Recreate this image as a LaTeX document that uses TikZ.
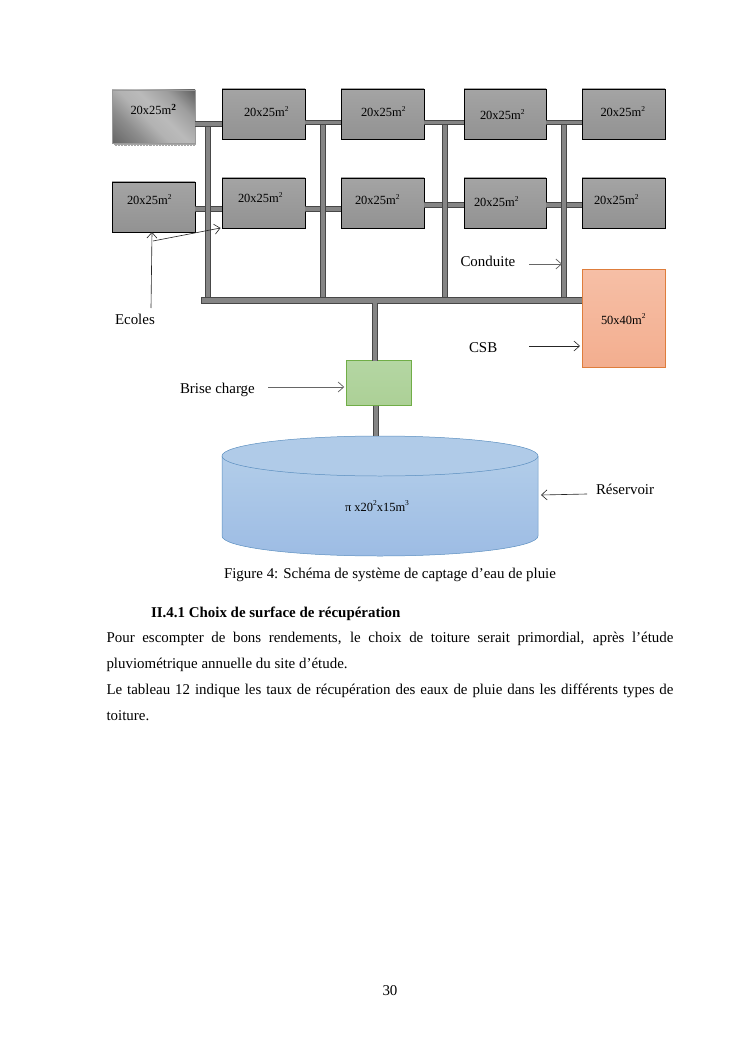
\documentclass[tikz,border=0pt]{standalone}
\usepackage{fontspec}
\setmainfont{Liberation Serif}
\usetikzlibrary{arrows.meta,calc,shapes.geometric}
\definecolor{boxtop}{HTML}{A4A4A4}
\definecolor{boxbot}{HTML}{929292}
\definecolor{csbline}{RGB}{222,125,60}
\definecolor{csbtop}{RGB}{246,191,166}
\definecolor{csbbot}{RGB}{243,174,143}
\definecolor{bcline}{RGB}{112,173,71}
\definecolor{bctop}{RGB}{180,214,163}
\definecolor{bcbot}{RGB}{172,208,150}
\definecolor{resline}{RGB}{91,143,192}
\definecolor{restop}{RGB}{178,205,233}
\definecolor{resbot}{RGB}{157,188,228}
\definecolor{reslid}{RGB}{176,203,232}
\pgfdeclarehorizontalshading{roofshade}{100bp}{color(0bp)=(black!60); color(15bp)=(black!60); color(32bp)=(black!45); color(45bp)=(black!30); color(55bp)=(black!27); color(70bp)=(black!38); color(85bp)=(black!62); color(100bp)=(black!62)}
\tikzset{
  x=0.8bp,y=-0.8bp,
  roofbox/.style={draw=black,line width=0.45pt,top color=boxtop,bottom color=boxbot,minimum width=66.4bp,minimum height=40bp,inner sep=0pt,outer sep=0pt},
  pipe/.style={draw=black!72,line width=4.2bp,line cap=butt},
  pipein/.style={draw=black!48,line width=3bp,line cap=butt},
  lab/.style={anchor=base west,inner sep=0pt,outer sep=0pt,font=\fontsize{10}{12}\selectfont},
  txt/.style={anchor=base west,inner sep=0pt,outer sep=0pt,font=\fontsize{12}{14}\selectfont},
  para/.style={anchor=north west,inner sep=0pt,outer sep=0pt,text width=453.6bp,align=justify,font=\fontsize{12}{20.8}\selectfont},
  arr/.style={draw=black!85,line width=0.5pt,-{Straight Barb[length=4.5bp,width=8bp]}},
  grayarr/.style={arr,draw=black!60,line width=0.6pt},
}
\newcommand{\supnum}[1]{\raisebox{0.42em}{\fontsize{6}{7}\selectfont #1}}
\newcommand{\squ}{\supnum{2}}
\begin{document}
\begin{tikzpicture}
\useasboundingbox (0,0) rectangle (744,1053);
% junctions
\coordinate (j1) at (208,124);
\coordinate (j2) at (323,122.5);
\coordinate (j3) at (445,122.5);
\coordinate (j4) at (564,122.5);
\coordinate (k1) at (208,209);
\coordinate (k3) at (445,205);
% first-row shadow
\fill[black!35] (114,143) rectangle (196,146.5);
\draw[white,line width=0.5bp,dash pattern=on 0.5bp off 2bp] (114,145) -- (196,145);
% boxes
\node[roofbox,draw=black!40,line width=0.4pt,shading=roofshade,shading angle=45,minimum width=66.4bp,minimum height=42.4bp] (t1) at (153.5,116.5) {};
\node[roofbox] (t2) at (263.5,114) {};
\node[roofbox] (t3) at (382.5,114) {};
\node[roofbox,minimum width=65.6bp] (t4) at (505,114) {};
\node[roofbox] (t5) at (623.5,114) {};
\node[roofbox] (b1) at (153.5,207) {};
\node[roofbox] (b2) at (263.5,203) {};
\node[roofbox] (b3) at (382.5,203) {};
\node[roofbox,minimum width=65.6bp] (b4) at (505,203) {};
\node[roofbox] (b5) at (623.5,203) {};
\node[draw=black!72,line width=0.6pt,fill=black!48,minimum width=304.8bp,minimum height=4.6bp,inner sep=0pt,outer sep=0pt] (main) at (391.5,300) {};
\node[draw=csbline,line width=0.5pt,top color=csbtop,bottom color=csbbot,minimum width=66.4bp,minimum height=78.4bp,inner sep=0pt,outer sep=0pt] (csb) at (623.5,318) {};
\node[draw=bcline,line width=0.5pt,top color=bctop,bottom color=bcbot,minimum width=52.4bp,minimum height=36bp,inner sep=0pt,outer sep=0pt] (bc) at (379,383) {};
% reservoir
\path[top color=restop,bottom color=resbot]
  (222,456) -- (222,536) arc[start angle=180,end angle=0,x radius=158,y radius=20] -- (538,456) -- cycle;
\draw[draw=resline,line width=0.4pt]
  (222,456) -- (222,536) arc[start angle=180,end angle=0,x radius=158,y radius=20] -- (538,456);
\node[ellipse,draw=resline,line width=0.4pt,fill=reslid,minimum width=252.8bp,minimum height=32bp,inner sep=0pt,outer sep=0pt] (res) at (380,456) {};
% connectors
\foreach \a/\b/\c in {b1/b2/k1,b2/b3/k1,b3/b4/k3,b4/b5/k3}{
  \draw[pipe] (\a.east |- \c) -- (\b.west |- \c);
  \draw[pipein] (\a.east |- \c) -- (\b.west |- \c);
}
\foreach \c in {j1,j2,j3,j4}{
  \draw[pipe] (\c) -- (\c |- main.north);
  \draw[pipein] (\c) -- (\c |- main.north);
}
\foreach \a/\b/\c in {t1/t2/j1,t2/t3/j2,t3/t4/j3,t4/t5/j4}{
  \draw[pipe] (\a.east |- \c) -- (\b.west |- \c);
  \draw[pipein] (\a.east |- \c) -- (\b.west |- \c);
}
\coordinate (up) at (375,303);
\coordinate (dn) at (376,405);
\draw[pipe] (up |- main.south) -- (up |- bc.north);
\draw[pipein] (up |- main.south) -- (up |- bc.north);
\draw[pipe] (dn |- bc.south) -- (dn |- res.north);
\draw[pipein] (dn |- bc.south) -- (dn |- res.north);
% text
\node[lab] (lt1) at (130.5,115) {20x25m\raisebox{0.36em}{\fontsize{7.5}{8}\selectfont\bfseries 2}};
\node[lab] (lt2) at (244,117) {20x25m\squ};
\node[lab] (lt3) at (361,117) {20x25m\squ};
\node[lab] (lt4) at (480,120) {20x25m\squ};
\node[lab] (lt5) at (600.5,117) {20x25m\squ};
\node[lab] (lb1) at (127,205) {20x25m\squ};
\node[lab] (lb2) at (238,203) {20x25m\squ};
\node[lab] (lb3) at (355,205) {20x25m\squ};
\node[lab] (lb4) at (474,206.5) {20x25m\squ};
\node[lab] (lb5) at (594,205) {20x25m\squ};
\node[lab] (lcsb) at (601,324) {50x40m\squ};
\node[lab] (lres) at (345,511) {π x20\squ x15m\supnum{3}};
\node[txt] (conduite) at (460.5,266) {Conduite};
\node[txt] (ecoles) at (115,324) {Ecoles};
\node[txt] (csbt) at (469,352) {CSB};
\node[txt] (brise) at (180,393) {Brise charge};
\node[txt] (reservoir) at (596,494) {Réservoir};
\node[txt] (caption) at (224,578) {Figure 4: Schéma de système de captage d’eau de pluie};
\node[txt,font=\fontsize{12}{14}\selectfont\bfseries] (head) at (151,617) {II.4.1 Choix de surface de récupération};
\node[para] (p1) at (106.5,632) {Pour escompter de bons rendements, le choix de toiture serait primordial, après l’étude \mbox{pluviométrique} annuelle du site d’étude.};
\node[para] (p2) at (106.5,684) {Le tableau 12 indique les taux de récupération des eaux de pluie dans les différents types de toiture.};
\node[txt] (page) at (382.5,995) {30};
% label arrows
\coordinate (e1) at (151,308);
\coordinate (e2) at (152,232);
\coordinate (e3) at (153,241);
\coordinate (e4) at (220.5,228);
\draw[arr] (e1) -- (e2);
\draw[arr] (e3) -- (e4);
\coordinate (c1) at (529,264);
\coordinate (c2) at (562,264);
\draw[grayarr] (c1) -- (c2);
\coordinate (s1) at (529,346);
\draw[arr] (s1) -- ([xshift=-1.6bp]csb.west |- s1);
\coordinate (g1) at (268,387);
\draw[grayarr] (g1) -- ([xshift=-1.6bp]bc.west |- g1);
\coordinate (r1) at (587,494);
\coordinate (r2) at (541,495);
\draw[arr] (r1) -- (r2);
\end{tikzpicture}
\end{document}
